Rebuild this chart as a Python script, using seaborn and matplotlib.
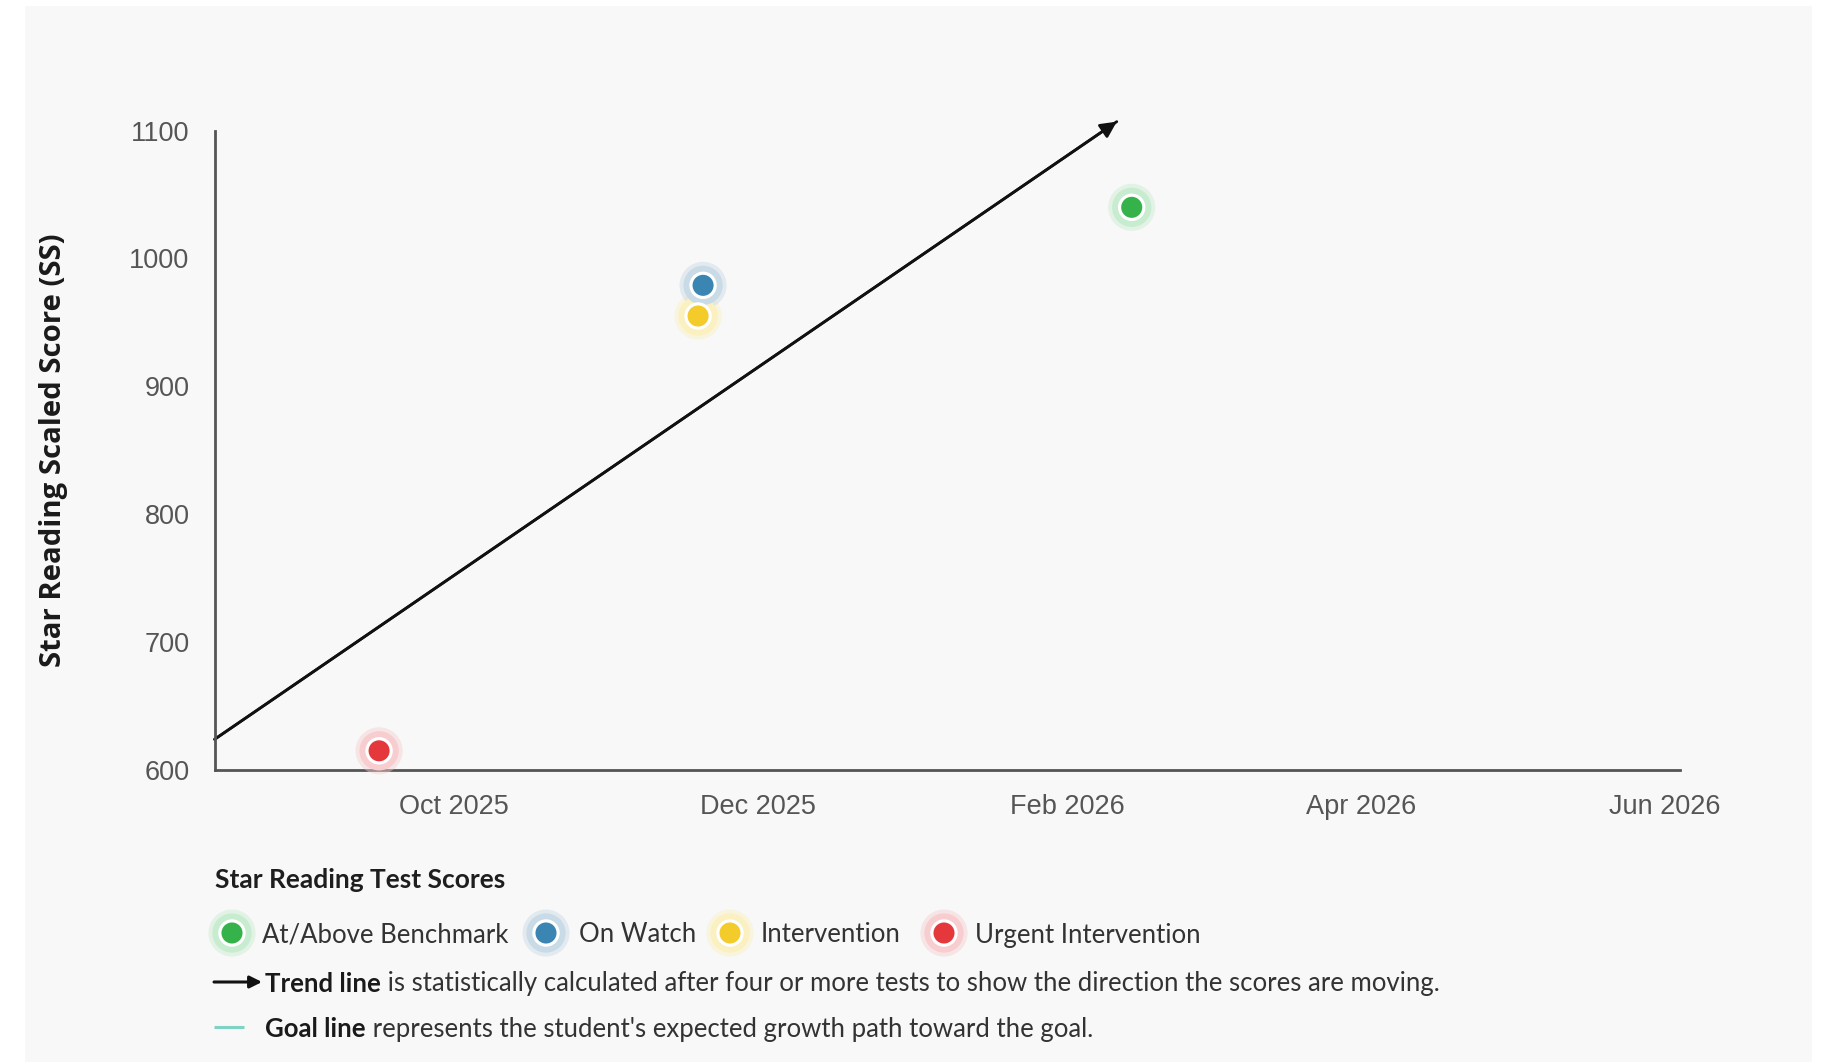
import numpy as np
import pandas as pd
import matplotlib
matplotlib.use("Agg")
import matplotlib.pyplot as plt
import matplotlib.dates as mdates
from matplotlib.patches import Rectangle
import seaborn as sns

# ---------------- data ----------------
test_dates = ["2025-09-16", "2025-11-19", "2025-11-20", "2026-02-14"]
test_scores = [615, 955, 979, 1040]
test_status = ["Urgent Intervention", "Intervention", "On Watch", "At/Above Benchmark"]

trend_dates = ["2025-08-14", "2026-02-11"]
trend_scores = [624, 1107]

status_order = ["At/Above Benchmark", "On Watch", "Intervention", "Urgent Intervention"]
status_colors = ["#35b34a", "#3a85b2", "#f3cb2b", "#e5383d"]
halo_colors = ["#c8ecd0", "#c8dbe6", "#fbf0c0", "#f7cdd0"]

y_ticks = [600, 700, 800, 900, 1000, 1100]
x_tick_dates = ["2025-10-01", "2025-12-01", "2026-02-01", "2026-04-01", "2026-06-01"]
x_tick_labels = ["Oct 2025", "Dec 2025", "Feb 2026", "Apr 2026", "Jun 2026"]
x_range = ["2025-08-14", "2026-06-04"]
y_range = [600, 1100]

y_label = "Star Reading Scaled Score (SS)"
legend_title = "Star Reading Test Scores"
trend_bold = "Trend line"
trend_text = " is statistically calculated after four or more tests to show the direction the scores are moving."
goal_bold = "Goal line"
goal_text = " represents the student's expected growth path toward the goal."
goal_color = "#7fd3c4"

# ---------------- figure ----------------
sns.set_theme(style="white")
plt.rcParams["font.family"] = ["Lato", "DejaVu Sans"]

W, H = 1829, 1062
fig = plt.figure(figsize=(W / 100, H / 100), dpi=100, facecolor="white")
fig.patches.append(Rectangle((25 / W, 0), (1812 - 25) / W, 1 - 6 / H,
                             transform=fig.transFigure, facecolor="#f8f8f8",
                             edgecolor="none", zorder=-10))

ax = fig.add_axes([214.6 / W, 1 - 770 / H, (1680 - 214.6) / W, (770 - 130.6) / H])
ax.set_facecolor("none")

df = pd.DataFrame({"date": pd.to_datetime(test_dates), "score": test_scores,
                   "status": test_status})
pal_inner = dict(zip(status_order, status_colors))
pal_halo = dict(zip(status_order, halo_colors))
pal_ring = {k: "white" for k in status_order}

# trend line
tdf = pd.DataFrame({"date": pd.to_datetime(trend_dates), "score": trend_scores})
sns.lineplot(data=tdf, x="date", y="score", color="#111111", linewidth=2.0, ax=ax,
             zorder=2, clip_on=False)
tx = mdates.date2num(tdf["date"])
ax.annotate("", xy=(tx[1], trend_scores[1]), xytext=(tx[0], trend_scores[0]),
            arrowprops=dict(arrowstyle="-|>", color="#111111", lw=2.0,
                            mutation_scale=24, shrinkA=0, shrinkB=0),
            annotation_clip=False, zorder=2)

# points with halo
layers = [(pal_halo, 1150, 0.45), (pal_halo, 800, 1.0), (pal_ring, 390, 1.0), (pal_inner, 230, 1.0)]
for pal, s, a in layers:
    sns.scatterplot(data=df, x="date", y="score", hue="status", palette=pal, s=s,
                    alpha=a, linewidth=0, legend=False, ax=ax, zorder=3, clip_on=False)

ax.set_xlim(pd.to_datetime(x_range))
ax.set_ylim(y_range)
ax.set_yticks(y_ticks)
ax.set_xticks(pd.to_datetime(x_tick_dates))
ax.set_xticklabels(x_tick_labels)
ax.set_xlabel("")
ax.set_ylabel("")
for s in ["top", "right"]:
    ax.spines[s].set_visible(False)
for s in ["left", "bottom"]:
    ax.spines[s].set_color("#555555")
    ax.spines[s].set_linewidth(2.0)
ax.tick_params(axis="both", length=0, labelsize=19, labelcolor="#555555")
ax.tick_params(axis="y", pad=18)
ax.tick_params(axis="x", pad=17)
for lab in ax.get_xticklabels() + ax.get_yticklabels():
    lab.set_family(["Liberation Sans", "DejaVu Sans"])

# y label
ylab = fig.text(54 / W, 1 - 450 / H, y_label, rotation=90, ha="center", va="center",
                fontweight="bold", family=["Open Sans", "DejaVu Sans"],
                color="#1a1a1a", fontsize=18)

# ---------------- legend (pixel-coordinate overlay) ----------------
lax = fig.add_axes([0, 0, 1, 1])
lax.set_facecolor("none")

title_t = lax.text(215, 880, legend_title, fontweight="bold", ha="left", va="center",
                   fontsize=17, color="#1e1e1e")

marker_x = [232, 546, 730, 944]
text_x = [262, 579, 761, 975]
row_y = 933
leg = pd.DataFrame({"x": marker_x, "y": [row_y] * 4, "status": status_order})
for pal, s, a in layers:
    sns.scatterplot(data=leg, x="x", y="y", hue="status", palette=pal, s=s, alpha=a,
                    linewidth=0, legend=False, ax=lax, zorder=3, clip_on=False)
lax.set_xlim(0, W)
lax.set_ylim(H, 0)
lax.axis("off")

mark_texts = []
for x, name in zip(text_x, status_order):
    mark_texts.append(lax.text(x, row_y + 2, name, ha="left", va="center", fontsize=17,
                               color="#333333"))

# trend row
lax.annotate("", xy=(262, 982), xytext=(214, 982),
             arrowprops=dict(arrowstyle="-|>", color="#111111", lw=2.2,
                             mutation_scale=18, shrinkA=0, shrinkB=0))
tb = lax.text(265, 984, trend_bold, fontweight="bold", ha="left", va="center",
              fontsize=17, color="#1a1a1a")
tr = lax.annotate(trend_text, xy=(1, 0.5), xycoords=tb, ha="left", va="center",
                  fontsize=17, color="#333333")

# goal row
lax.plot([214, 244], [1027, 1027], color=goal_color, lw=2.2, solid_capstyle="butt")
gb = lax.text(265, 1029, goal_bold, fontweight="bold", ha="left", va="center",
              fontsize=17, color="#1a1a1a")
gr = lax.annotate(goal_text, xy=(1, 0.5), xycoords=gb, ha="left", va="center",
                  fontsize=17, color="#333333")

# ---------------- fit text sizes to measured widths ----------------
def fit(texts, target, vertical=False, extra=()):
    fig.canvas.draw()
    r = fig.canvas.get_renderer()
    bbs = [t.get_window_extent(r) for t in texts]
    w = sum((b.height if vertical else b.width) for b in bbs)
    k = target / w
    for t in list(texts) + list(extra):
        t.set_fontsize(t.get_fontsize() * k)

fit([ax.get_xticklabels()[0]], 110, extra=ax.get_xticklabels()[1:] + ax.get_yticklabels())
fit([ylab], 434, vertical=True)
fit([title_t], 291)
fit([tb, tr], 1170, extra=[gb, gr] + mark_texts)

fig.savefig("out.png", dpi=100, facecolor="white")
